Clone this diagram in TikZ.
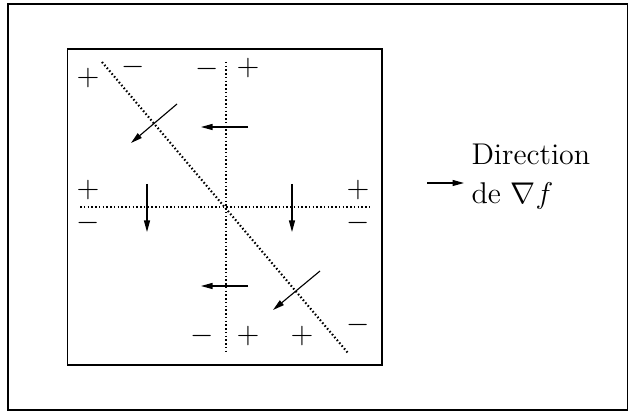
\documentclass[tikz,border=0pt]{standalone}
\usetikzlibrary{arrows.meta}
\begin{document}
\begin{tikzpicture}[x=0.4pt,y=-0.4pt,
  sign/.style={inner sep=0pt,font=\large},
  dotline/.style={line width=0.85pt,dash pattern=on 0.6pt off 0.9pt},
  grad/.style={line width=0.45pt,-{Triangle[length=4.6pt,width=2.4pt]}},
  lbl/.style={inner sep=0pt,anchor=base west,font=\large}]
\useasboundingbox (0,0) rectangle (628,412);
% outer frame
\draw[line width=0.8pt] (8,4) rectangle (627.5,410);
% inner box
\draw[line width=0.5pt] (67.5,49) rectangle (382,365);
% dotted lines
\coordinate (hl) at (80,207);   \coordinate (hr) at (372,207);
\coordinate (vt) at (226,62);   \coordinate (vb) at (226,353);
\coordinate (dt) at (102,62);   \coordinate (db) at (348,353);
\draw[dotline] (hl) -- (hr);
\draw[dotline] (vt) -- (vb);
\draw[dotline] (dt) -- (db);
% gradient arrows
\coordinate (a1s) at (177,104); \coordinate (a1e) at (131,143);
\coordinate (a2s) at (248,127); \coordinate (a2e) at (201,127);
\coordinate (a3s) at (147,184); \coordinate (a3e) at (147,232);
\coordinate (a4s) at (292,184); \coordinate (a4e) at (292,232);
\coordinate (a5s) at (248,286); \coordinate (a5e) at (201,286);
\coordinate (a6s) at (320,271); \coordinate (a6e) at (273,310);
\draw[grad] (a1s) -- (a1e);
\draw[grad] (a2s) -- (a2e);
\draw[grad] (a3s) -- (a3e);
\draw[grad] (a4s) -- (a4e);
\draw[grad] (a5s) -- (a5e);
\draw[grad] (a6s) -- (a6e);
% signs
\node[sign] (s1) at (88,78) {$+$};
\node[sign] (s2) at (133,67) {$-$};
\node[sign] (s3) at (207,69) {$-$};
\node[sign] (s4) at (248,68) {$+$};
\node[sign] (s5) at (88,190) {$+$};
\node[sign] (s6) at (88,223) {$-$};
\node[sign] (s7) at (358,190) {$+$};
\node[sign] (s8) at (358,223) {$-$};
\node[sign] (s9) at (358,325) {$-$};
\node[sign] (s10) at (202,336) {$-$};
\node[sign] (s11) at (248,336) {$+$};
\node[sign] (s12) at (302,336) {$+$};
% legend
\coordinate (ls) at (427,183); \coordinate (le) at (464,183);
\draw[grad] (ls) -- (le);
\node[lbl] (t1) at (471,165) {Direction};
\node[lbl] (t2) at (471,204) {de $\nabla f$};
\end{tikzpicture}
\end{document}
